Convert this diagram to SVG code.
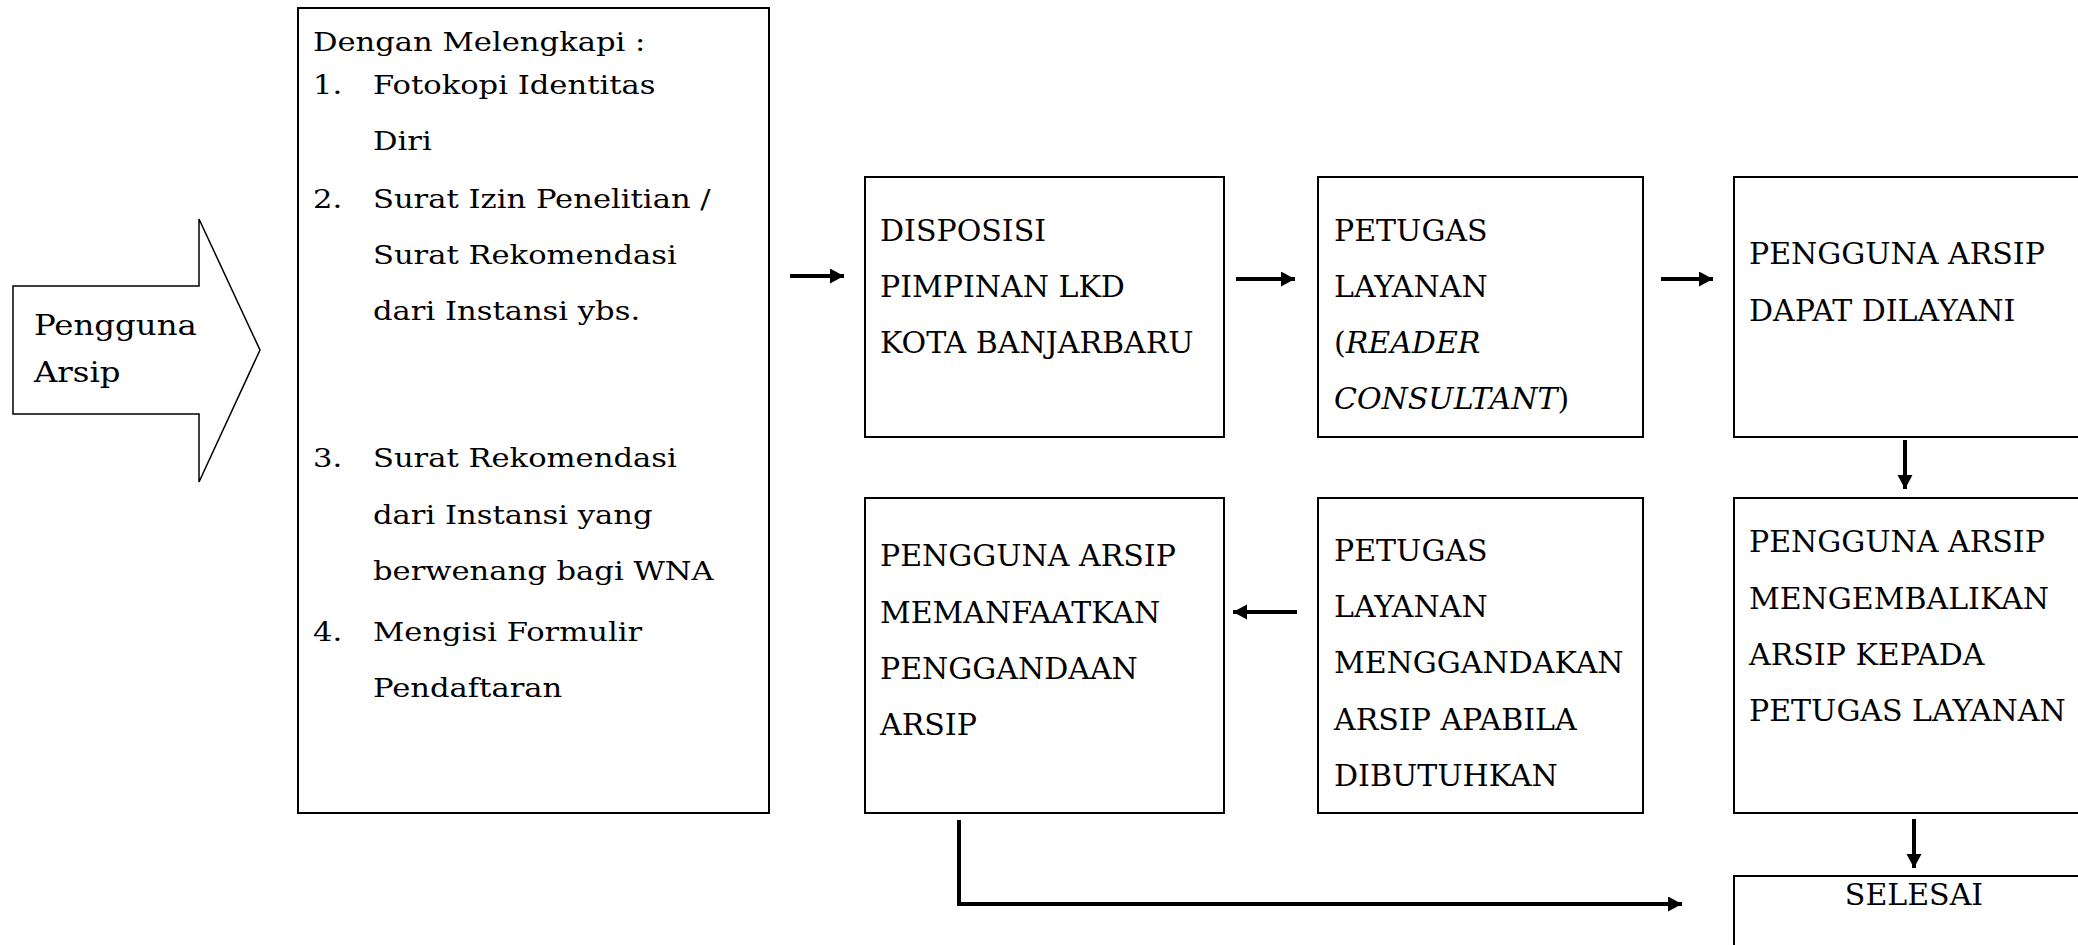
<svg xmlns="http://www.w3.org/2000/svg" width="2078" height="945" viewBox="0 0 2078 945">
<style>
.box{fill:#fff;stroke:#000;stroke-width:2}
.t{font-family:"DejaVu Serif","Liberation Serif",serif;font-size:30px;fill:#000}
.ts{font-family:"DejaVu Serif","Liberation Serif",serif;font-size:25.5px;fill:#000}
.tp{font-family:"DejaVu Serif","Liberation Serif",serif;font-size:27px;fill:#000}
.c{fill:none;stroke:#000;stroke-width:4}
</style>
<defs>
<marker id="ah" markerUnits="userSpaceOnUse" markerWidth="16" markerHeight="16" refX="14" refY="7.5" orient="auto">
<path d="M0,0 L14,7.5 L0,15 z" fill="#000"/>
</marker>
</defs>
<rect width="2078" height="945" fill="#fff"/>
<g id="start">
<polygon points="13,286 199,286 199,219 260,350 199,482 199,414 13,414" fill="#fff" stroke="#000" stroke-width="1.5"/>
<g transform="scale(1.2,1)">
<text class="tp" x="28.3" y="335">Pengguna</text>
<text class="tp" x="28.3" y="382">Arsip</text>
</g>
</g>
<g id="requirements">
<rect class="box" x="298" y="8" width="471" height="805"/>
<g transform="scale(1.2,1)">
<text class="ts" x="260.8" y="51">Dengan Melengkapi :</text>
<text class="ts" x="260.8" y="94">1.</text>
<text class="ts" x="310.8" y="94">Fotokopi Identitas</text>
<text class="ts" x="310.8" y="150">Diri</text>
<text class="ts" x="260.8" y="208">2.</text>
<text class="ts" x="310.8" y="208">Surat Izin Penelitian /</text>
<text class="ts" x="310.8" y="264">Surat Rekomendasi</text>
<text class="ts" x="310.8" y="320">dari Instansi ybs.</text>
<text class="ts" x="260.8" y="467">3.</text>
<text class="ts" x="310.8" y="467">Surat Rekomendasi</text>
<text class="ts" x="310.8" y="524">dari Instansi yang</text>
<text class="ts" x="310.8" y="580">berwenang bagi WNA</text>
<text class="ts" x="260.8" y="641">4.</text>
<text class="ts" x="310.8" y="641">Mengisi Formulir</text>
<text class="ts" x="310.8" y="697">Pendaftaran</text>
</g>
</g>
<g id="disposisi">
<rect class="box" x="865" y="177" width="359" height="260"/>
<text class="t" x="880" y="241">DISPOSISI</text>
<text class="t" x="880" y="297">PIMPINAN LKD</text>
<text class="t" x="880" y="353">KOTA BANJARBARU</text>
</g>
<g id="petugas-layanan">
<rect class="box" x="1318" y="177" width="325" height="260"/>
<text class="t" x="1334" y="241">PETUGAS</text>
<text class="t" x="1334" y="297">LAYANAN</text>
<text class="t" x="1334" y="353">(<tspan font-style="italic">READER</tspan></text>
<text class="t" x="1334" y="409"><tspan font-style="italic">CONSULTANT</tspan>)</text>
</g>
<g id="dilayani">
<rect class="box" x="1734" y="177" width="400" height="260"/>
<text class="t" x="1749" y="264">PENGGUNA ARSIP</text>
<text class="t" x="1749" y="321">DAPAT DILAYANI</text>
</g>
<g id="mengembalikan">
<rect class="box" x="1734" y="498" width="400" height="315"/>
<text class="t" x="1749" y="552">PENGGUNA ARSIP</text>
<text class="t" x="1749" y="609">MENGEMBALIKAN</text>
<text class="t" x="1749" y="665">ARSIP KEPADA</text>
<text class="t" x="1749" y="721">PETUGAS LAYANAN</text>
</g>
<g id="menggandakan">
<rect class="box" x="1318" y="498" width="325" height="315"/>
<text class="t" x="1334" y="561">PETUGAS</text>
<text class="t" x="1334" y="617">LAYANAN</text>
<text class="t" x="1334" y="673">MENGGANDAKAN</text>
<text class="t" x="1334" y="730">ARSIP APABILA</text>
<text class="t" x="1334" y="786">DIBUTUHKAN</text>
</g>
<g id="memanfaatkan">
<rect class="box" x="865" y="498" width="359" height="315"/>
<text class="t" x="880" y="566">PENGGUNA ARSIP</text>
<text class="t" x="880" y="623">MEMANFAATKAN</text>
<text class="t" x="880" y="679">PENGGANDAAN</text>
<text class="t" x="880" y="735">ARSIP</text>
</g>
<g id="selesai">
<rect class="box" x="1734" y="876" width="400" height="100"/>
<text class="t" x="1914" y="905" text-anchor="middle">SELESAI</text>
</g>
<g id="connectors">
<line class="c" x1="790" y1="276" x2="844" y2="276" marker-end="url(#ah)"/>
<line class="c" x1="1236" y1="279" x2="1295" y2="279" marker-end="url(#ah)"/>
<line class="c" x1="1661" y1="279" x2="1713" y2="279" marker-end="url(#ah)"/>
<line class="c" x1="1905" y1="440" x2="1905" y2="489" marker-end="url(#ah)"/>
<line class="c" x1="1914" y1="819" x2="1914" y2="868" marker-end="url(#ah)"/>
<line class="c" x1="1297" y1="612" x2="1233" y2="612" marker-end="url(#ah)"/>
<polyline class="c" points="959,820 959,904 1682,904" marker-end="url(#ah)"/>
</g>
</svg>
